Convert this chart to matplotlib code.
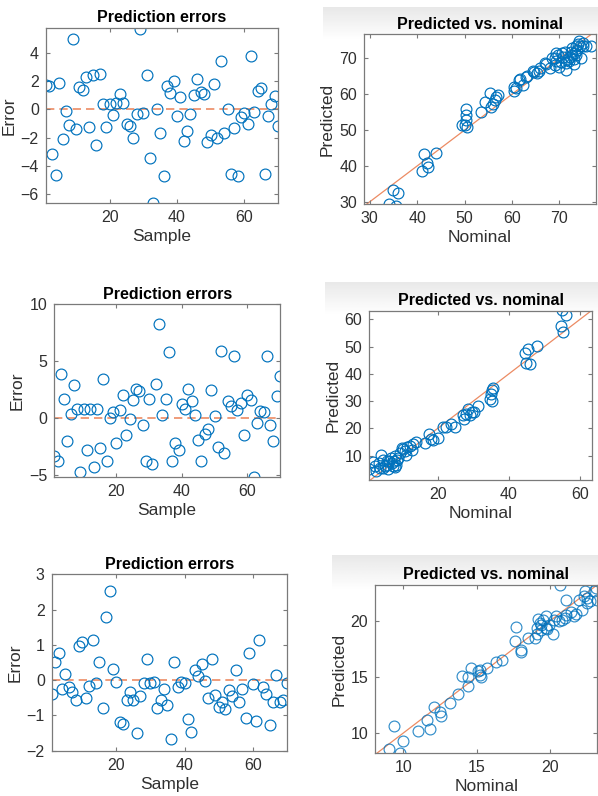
import numpy as np
import matplotlib
matplotlib.use("Agg")
import matplotlib.pyplot as plt

plt.rcParams['font.family'] = ['Liberation Sans', 'DejaVu Sans']

# --- data ---
err_top = [1.74, 1.65, -3.19, -4.65, 1.84, -2.1, -0.12, -1.1, 4.95, -1.4,
           1.6, 1.38, 2.3, -1.27, 2.42, -2.52, 2.5, 0.38, -1.22, 0.36,
           -0.4, 0.42, 1.08, 0.42, -1.06, -1.18, -2.0, -0.35, 5.65, -0.24,
           2.42, -3.46, -6.62, 0.02, -1.65, -4.7, 1.65, 1.13, 2.02, -0.47,
           0.85, -2.21, -1.53, -0.35, 1.01, 2.14, 1.25, 1.08, -2.33, -1.81,
           1.76, -2.05, 3.44, -1.69, 0.02, -4.54, -1.29, -4.68, -0.52, -0.28,
           -1.04, 3.79, -0.16, 1.29, 1.48, -4.54, -0.47, 0.38, 0.96, -1.15]

err_mid = [-3.3, -3.8, 3.9, 1.7, -2.0, 0.4, 2.9, 0.8, -4.7, 0.8,
           -2.8, 0.8, -4.3, 0.8, -2.6, 3.4, -3.8, 0.0, 0.5, -2.2,
           0.7, 2.0, -1.5, -0.1, 1.6, 2.6, 2.4, -0.6, -3.8, 1.7,
           -4.0, 3.0, 8.3, 0.3, 1.7, 5.8, -3.8, -2.2, -2.8, 1.2,
           0.8, 2.6, 1.5, 0.3, -1.9, -3.8, -1.4, -1.0, 2.5, 0.2,
           -2.5, 5.9, -3.1, 1.5, 1.1, 5.5, 0.7, 1.3, -1.5, 2.0,
           1.6, -5.2, -0.4, 0.6, 0.5, 5.5, -0.6, -2.0, 1.9, 3.7]

err_bot = [-0.40, 0.52, 0.76, -0.26, 0.17, -0.19, -0.33, -0.57, 0.96, 1.09,
           -0.51, -0.16, 1.15, -0.08, 0.51, -0.78, 1.80, 2.53, 0.32, -0.04,
           -1.18, -1.23, -0.57, -0.34, -0.57, -1.49, -0.45, -0.08, 0.61, -0.09,
           -0.04, -0.79, -0.55, -0.24, -0.70, -1.68, 0.52, -0.20, -0.04, -0.08,
           -1.10, -1.48, 0.30, 0.11, 0.45, -0.03, -0.51, 0.59, -0.41, -0.76,
           -0.63, -0.81, -0.28, -0.44, 0.28, -0.62, -0.25, -1.07, 0.76, -0.11,
           -1.15, 1.15, -0.19, -0.40, -1.26, -0.61, 0.14, -0.63, -0.55, -0.09]

nom_top = [34.1, 35.6, 34.9, 36.0, 41.0, 41.4, 42.1, 42.3, 43.9, 49.4,
           50.1, 50.4, 50.4, 50.4, 50.6, 53.4, 54.4, 55.3, 55.6, 56.0,
           56.7, 57.0, 56.5, 60.5, 60.5, 60.9, 61.4, 61.7, 63.0, 63.2,
           62.4, 64.4, 65.2, 65.6, 67.0, 67.9, 69.0, 69.3, 69.6, 70.0,
           70.4, 71.2, 71.4, 71.8, 71.3, 72.2, 72.5, 72.7, 73.0, 73.2,
           73.5, 73.9, 74.2, 74.6, 74.9, 75.6, 76.7, 74.4, 69.3, 68.5,
           73.0, 72.0, 70.7, 73.5, 72.6, 74.9, 69.0, 64.7, 65.8, 73.7,
           67.2, 70.5]
pred_top = [29.3, 28.9, 33.4, 32.5, 38.7, 43.3, 40.9, 39.8, 43.5, 51.3,
            51.3, 56.0, 54.2, 52.8, 50.9, 55.1, 57.9, 60.2, 56.5, 57.4,
            59.1, 59.8, 58.4, 61.0, 61.9, 61.6, 64.0, 64.2, 64.7, 65.1,
            62.7, 66.5, 66.0, 66.5, 68.7, 67.2, 70.0, 69.3, 70.9, 67.7,
            69.1, 71.9, 68.6, 69.7, 66.7, 70.5, 71.9, 72.8, 68.4, 71.4,
            73.3, 74.0, 74.7, 70.0, 73.4, 73.3, 73.5, 73.4, 71.4, 70.2,
            69.7, 69.3, 70.5, 70.9, 70.9, 74.2, 68.1, 66.3, 67.2, 72.3,
            68.3, 71.4]

nom_mid = [0.8, 1.7, 2.7, 3.8, 4.1, 4.6, 5.2, 5.9, 6.4, 6.8,
           7.4, 7.7, 8.0, 8.3, 8.5, 9.0, 3.6, 6.1, 9.9, 10.8,
           11.1, 11.5, 12.2, 12.7, 13.9, 16.4, 17.7, 18.1, 18.6, 20.0,
           21.6, 22.5, 23.7, 24.9, 27.0, 27.4, 28.1, 28.6, 29.1, 29.8,
           30.3, 31.4, 34.7, 35.4, 35.2, 35.6, 34.9, 44.5, 45.3, 44.9,
           46.1, 47.8, 54.6, 55.0, 55.2, 56.2, 2.4, 4.7, 5.7, 7.1,
           9.4, 10.4, 13.2, 8.0]
pred_mid = [5.1, 7.6, 4.3, 5.5, 10.1, 8.3, 6.1, 6.7, 7.9, 9.1,
            6.1, 7.9, 9.8, 6.7, 8.5, 9.1, 7.3, 5.1, 13.0, 11.6,
            10.4, 13.2, 13.4, 12.2, 15.2, 14.6, 17.9, 16.1, 15.6, 16.5,
            20.7, 20.7, 21.7, 20.4, 24.8, 23.4, 25.4, 27.1, 24.8, 26.2,
            25.9, 28.3, 30.7, 30.2, 34.1, 34.8, 32.6, 47.6, 49.0, 43.9,
            43.5, 50.2, 57.6, 63.4, 55.5, 61.8, 6.1, 5.5, 7.9, 7.3,
            11.0, 12.5, 14.4, 5.9]

nom_bot = [9.0, 9.4, 9.8, 10.0, 11.0, 11.6, 11.8, 12.1, 12.5, 12.6,
           13.2, 13.7, 14.0, 14.4, 14.4, 14.6, 15.1, 15.2, 15.3, 15.2,
           15.7, 16.3, 16.7, 17.6, 17.7, 18.0, 18.0, 18.5, 19.0, 19.1,
           19.1, 19.2, 19.3, 19.4, 19.5, 19.7, 19.7, 19.8, 20.2, 20.3,
           20.4, 20.6, 20.7, 20.8, 21.1, 21.1, 21.4, 21.6, 21.8, 22.0,
           22.2, 22.3, 22.4, 22.5, 22.5, 22.7, 23.0, 23.1, 23.2, 19.4,
           19.95, 21.0]
pred_bot = [8.6, 10.6, 8.2, 9.3, 10.2, 11.2, 10.4, 12.3, 11.9, 11.5,
            12.7, 13.5, 15.1, 14.2, 15.0, 15.8, 15.5, 15.2, 15.0, 15.6,
            15.8, 16.3, 16.5, 18.2, 19.5, 17.4, 17.2, 18.5, 18.5, 19.4,
            18.8, 20.2, 19.8, 19.2, 20.1, 19.4, 20.4, 19.3, 18.8, 20.1,
            20.4, 20.0, 23.2, 20.1, 21.9, 20.5, 20.8, 20.4, 20.6, 21.9,
            21.0, 22.2, 22.7, 21.6, 22.0, 21.8, 22.7, 22.9, 21.9, 19.6,
            19.6, 20.3]

BLUE = '#0072BD'
ORANGE = '#EC8B63'
W, H = 598, 796

fig = plt.figure(figsize=(W / 100, H / 100), dpi=100)


def px_axes(left, top, right, bottom, **kw):
    return fig.add_axes([left / W, 1 - bottom / H, (right - left) / W, (bottom - top) / H], **kw)


def band(left, top, bottom):
    # light grey gradient strip behind the scatter titles
    bx = px_axes(left, top, W, bottom, zorder=-5)
    grad = np.linspace(0.91, 1.0, 50).reshape(-1, 1)
    bx.imshow(np.repeat(grad, 2, axis=1), cmap='gray', vmin=0, vmax=1,
              aspect='auto', extent=[0, 1, 0, 1])
    bx.axis('off')


def style(ax, title, xlabel, ylabel):
    for s in ax.spines.values():
        s.set_color('#7a7a7a')
        s.set_linewidth(0.9)
    ax.tick_params(direction='in', length=3, width=0.8, color='#7a7a7a',
                   labelsize=11.5, labelcolor='#303030', top=True, right=True, pad=5)
    ax.set_title(title, fontsize=11.5, fontweight='bold', color='black', pad=4)
    ax.set_xlabel(xlabel, fontsize=12.5, color='#303030', labelpad=3)
    ax.set_ylabel(ylabel, fontsize=12.5, color='#303030', labelpad=3)


def err_plot(ax, errs, ylim, yticks):
    n = np.arange(1, len(errs) + 1)
    ax.plot(n, errs, 'o', mfc='none', mec=BLUE, ms=7.8, mew=0.85)
    ax.axhline(0, color=ORANGE, lw=1.2, dashes=(5, 3), zorder=1)
    ax.set_xlim(1, len(errs))
    ax.set_ylim(*ylim)
    ax.set_xticks([20, 40, 60])
    ax.set_yticks(yticks)
    style(ax, 'Prediction errors', 'Sample', 'Error')


def pvn_plot(ax, nom, pred, xlim, ylim, ticks_x, ticks_y, alpha=1.0):
    ax.plot(nom, pred, 'o', mfc='none', mec=BLUE, ms=7.8, mew=0.85, alpha=alpha)
    lo, hi = min(xlim[0], ylim[0]), max(xlim[1], ylim[1])
    ax.plot([lo, hi], [lo, hi], color=ORANGE, lw=0.9, zorder=1)
    ax.set_xlim(*xlim)
    ax.set_ylim(*ylim)
    ax.set_xticks(ticks_x)
    ax.set_yticks(ticks_y)
    style(ax, 'Predicted vs. nominal', 'Nominal', 'Predicted')


band(323, 7, 40)
band(325, 282, 315)
band(332, 555, 590)

ax1 = px_axes(45.7, 28, 278, 203)
err_plot(ax1, err_top, (-6.62, 5.75), [-6, -4, -2, 0, 2, 4])

ax2 = px_axes(364, 34.3, 596, 204)
pvn_plot(ax2, nom_top, pred_top, (28.8, 77.7), (29.4, 76.7),
         [30, 40, 50, 60, 70], [30, 40, 50, 60, 70])

ax3 = px_axes(54.3, 304.3, 280, 477.3)
err_plot(ax3, err_mid, (-5.2, 10), [-5, 0, 5, 10])

ax4 = px_axes(369.3, 310.7, 592, 480)
pvn_plot(ax4, nom_mid, pred_mid, (0.8, 63.4), (1.1, 63.2),
         [20, 40, 60], [10, 20, 30, 40, 50, 60])

ax5 = px_axes(51.7, 574.3, 286.7, 750.7)
err_plot(ax5, err_bot, (-2, 3), [-2, -1, 0, 1, 2, 3])

ax6 = px_axes(375.3, 585, 597, 753.3)
pvn_plot(ax6, nom_bot, pred_bot, (8.1, 23.2), (8.2, 23.2),
         [10, 15, 20], [10, 15, 20], alpha=0.8)

fig.savefig('out.png', dpi=100)
